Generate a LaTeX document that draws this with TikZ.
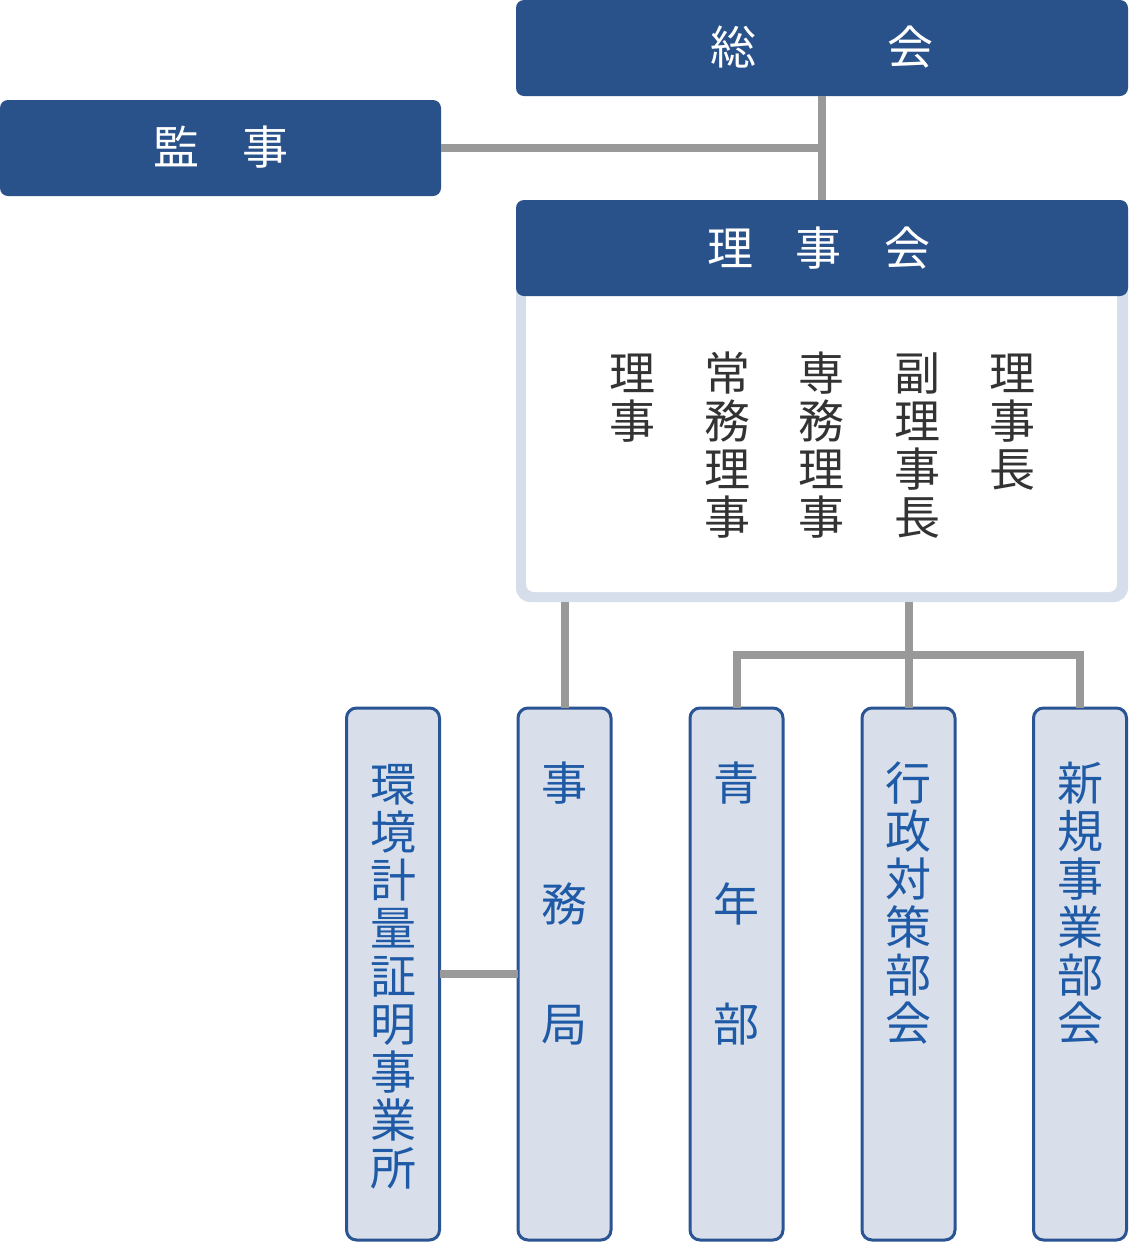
\documentclass[tikz,border=0pt]{standalone}
\usepackage{fontspec}
\newfontfamily\jp{Noto Sans CJK JP}
\definecolor{headblue}{HTML}{29518A}
\definecolor{lowborder}{HTML}{2A5493}
\definecolor{lowfill}{HTML}{D8DFEB}
\definecolor{lowtext}{HTML}{1F5AA6}
\definecolor{frame}{HTML}{D6DEEB}
\definecolor{linegray}{HTML}{999999}
\definecolor{bodytext}{HTML}{333333}
\begin{document}
\begin{tikzpicture}[x=1pt,y=-1pt,
  hdbox/.style={fill=headblue, draw=none, rounded corners=8pt, inner sep=0pt, outer sep=0pt, minimum height=96pt},
  lowbox/.style={fill=lowfill, draw=lowborder, line width=3pt, rounded corners=10pt, inner sep=0pt, outer sep=0pt, minimum width=93pt, minimum height=532pt},
  conn/.style={draw=linegray, line width=8pt},
  glyph/.style={inner sep=0pt, text height=40.5pt, text depth=5.5pt, font=\jp\fontsize{46pt}{48pt}\selectfont},
  wtxt/.style={glyph, text=white},
  btxt/.style={glyph, text=bodytext},
  ltxt/.style={glyph, text=lowtext},
]
\useasboundingbox (0,0) rectangle (1128,1243);

% --- connectors drawn first (under boxes)
\node[hdbox, minimum width=612pt] (sokai) at (822,48) {};
\node[hdbox, minimum width=441pt] (kanji) at (220.5,148) {};
\node[fill=frame, draw=none, rounded corners=14pt, inner sep=0pt, outer sep=0pt, minimum width=612pt, minimum height=402pt] (rbody) at (822,401) {};
\fill[white, rounded corners=8pt] (526,280) rectangle (1117,592);
\node[hdbox, minimum width=612pt] (riji) at (822,248) {};

\coordinate (j1) at (822,148);
\draw[conn] (sokai.south) -- (riji.north);
\draw[conn] (kanji.east) -- (j1);

\node[lowbox] (kankyo) at (393,974) {};
\node[lowbox] (jimu) at (564.5,974) {};
\node[lowbox] (seinen) at (736.5,974) {};
\node[lowbox] (gyosei) at (908.5,974) {};
\node[lowbox] (shinki) at (1080,974) {};

\coordinate (bar) at (907,655);
\draw[conn] (jimu.north |- rbody.south) -- (jimu.north);
\draw[conn] (gyosei.north |- rbody.south) -- (gyosei.north);
\draw[conn, line join=miter] (seinen.north) |- (bar) -| (shinki.north);
\draw[conn] (kankyo.east) -- (jimu.west);

% --- header texts
\node[wtxt] (t-so) at (733,47) {総};
\node[wtxt] (t-kai) at (910,47) {会};
\node[wtxt] (t-kan) at (176,147) {監};
\node[wtxt] (t-ji) at (265,147) {事};
\node[wtxt] (t-r1) at (730,248) {理};
\node[wtxt] (t-r2) at (818,248) {事};
\node[wtxt] (t-r3) at (907,248) {会};

% --- officer columns
\foreach \c [count=\i from 0] in {理,事}
  \node[btxt] (ra\i) at (632,{373+48*\i}) {\c};
\foreach \c [count=\i from 0] in {常,務,理,事}
  \node[btxt] (rb\i) at (727,{373+48*\i}) {\c};
\foreach \c [count=\i from 0] in {専,務,理,事}
  \node[btxt] (rc\i) at (821,{373+48*\i}) {\c};
\foreach \c [count=\i from 0] in {副,理,事,長}
  \node[btxt] (rd\i) at (917,{373+48*\i}) {\c};
\foreach \c [count=\i from 0] in {理,事,長}
  \node[btxt] (re\i) at (1012,{373+48*\i}) {\c};

% --- lower box texts
\foreach \c [count=\i from 0] in {環,境,計,量,証,明,事,業,所}
  \node[ltxt] (la\i) at (393,{784+48*\i}) {\c};
\foreach \c [count=\i from 0] in {事,務,局}
  \node[ltxt] (lb\i) at (564.5,{783+120.5*\i}) {\c};
\foreach \c [count=\i from 0] in {青,年,部}
  \node[ltxt] (lc\i) at (736.5,{783+120.5*\i}) {\c};
\foreach \c [count=\i from 0] in {行,政,対,策,部,会}
  \node[ltxt] (ld\i) at (908.5,{783+48*\i}) {\c};
\foreach \c [count=\i from 0] in {新,規,事,業,部,会}
  \node[ltxt] (le\i) at (1080,{783+48*\i}) {\c};
\end{tikzpicture}
\end{document}
